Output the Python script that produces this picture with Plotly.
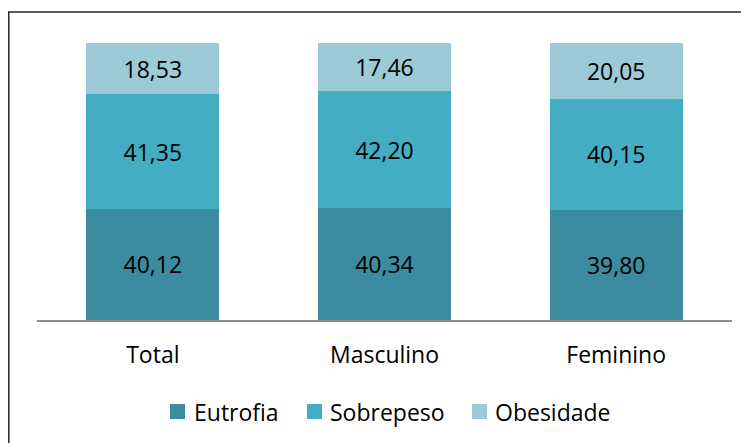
import plotly.graph_objects as go

categories = ["Total", "Masculino", "Feminino"]
eutrofia = [40.12, 40.34, 39.80]
sobrepeso = [41.35, 42.20, 40.15]
obesidade = [18.53, 17.46, 20.05]

series = [
    ("Eutrofia", eutrofia, "#3B8CA1"),
    ("Sobrepeso", sobrepeso, "#43ADC4"),
    ("Obesidade", obesidade, "#9DCAD7"),
]

FONT = "Open Sans, Calibri, Carlito, sans-serif"
FS = 23

# plot area in figure pixels (page body adds an 8px margin)
L, R, T, B = 29, 17, 35, 123
W, H = 741, 435
PW, PH = W - L - R, H - T - B


def px(x):
    return (x - L) / PW


def py(y):
    return (T + PH - y) / PH


fig = go.Figure()
for name, vals, color in series:
    fig.add_trace(go.Bar(
        name=name, x=categories, y=vals,
        marker=dict(color=color, line=dict(width=0)),
        text=[f"{v:.2f}".replace(".", ",") for v in vals],
        textposition="inside", insidetextanchor="middle",
        textfont=dict(family=FONT, size=FS, color="#000000"),
        hoverinfo="skip", showlegend=False,
    ))

# legend drawn as swatches + text
legend_sq_left = [162, 299, 464]
legend_txt_left = [184, 320, 485]
shapes = [dict(type="rect", xref="paper", yref="paper",
               x0=-0.0406, x1=1.2, y0=-0.8, y1=1.112,
               line=dict(color="#262626", width=1.5), fillcolor="rgba(0,0,0,0)", layer="below")]
annotations = []
for (name, _, color), sx, tx in zip(series, legend_sq_left, legend_txt_left):
    shapes.append(dict(type="rect", xref="paper", yref="paper",
                       x0=px(sx), x1=px(sx + 15), y0=py(411), y1=py(396),
                       line=dict(width=0), fillcolor=color))
    annotations.append(dict(text=name, xref="paper", yref="paper", x=px(tx), y=py(404),
                            xanchor="left", yanchor="middle", showarrow=False,
                            font=dict(family=FONT, size=FS, color="#000000")))

fig.update_layout(
    barmode="stack",
    bargap=0.427,
    width=W, height=H,
    margin=dict(l=L, r=R, t=T, b=B),
    paper_bgcolor="white", plot_bgcolor="white",
    font=dict(family=FONT, size=FS, color="#000000"),
    showlegend=False,
    xaxis=dict(showgrid=False, showline=True, linecolor="#8C8C8C", linewidth=1.5,
               ticks="", ticklabelstandoff=14,
               tickfont=dict(family=FONT, size=FS, color="#000000")),
    yaxis=dict(range=[0, 100], visible=False, showgrid=False),
    shapes=shapes,
    annotations=annotations,
)

fig.write_html("out.html")
